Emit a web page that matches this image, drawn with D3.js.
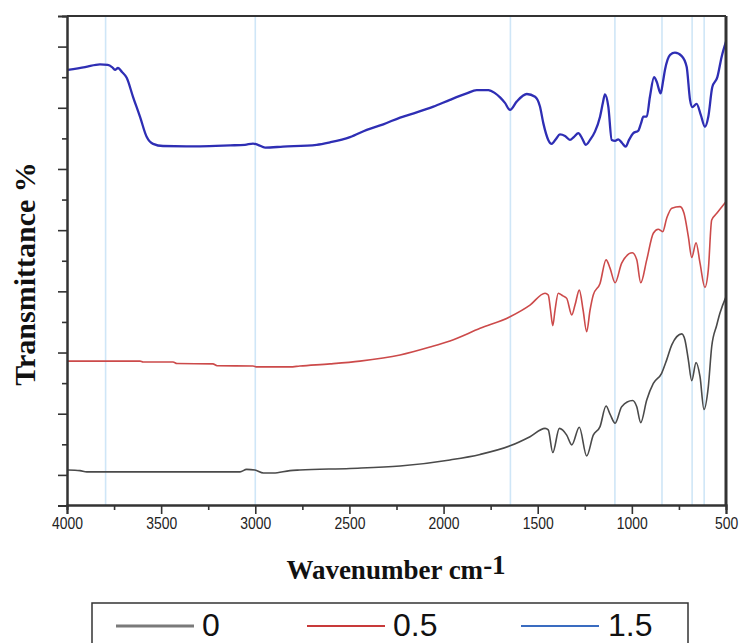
<!DOCTYPE html>
<html>
<head>
<meta charset="utf-8">
<script src="https://cdn.jsdelivr.net/npm/d3@7"></script>
<style>
  html, body { margin: 0; padding: 0; background: #fff; }
  svg { display: block; }
</style>
</head>
<body>
<svg id="chart" width="745" height="643"></svg>
<script>
// FTIR spectra: [wavenumber (cm-1), transmittance (offset, a.u.)]
const series0 = [
  [3995,1.16],[3931,1.14],[3895,1.10],[3842,1.10],[3081,1.10],[3046,1.18],[3002,1.16],
  [2957,1.06],[2904,1.06],[2816,1.14],[2763,1.16],[2497,1.21],[2231,1.29],[1966,1.49],
  [1806,1.67],[1647,1.95],[1541,2.25],[1461,2.52],[1444,2.47],[1420,1.73],[1385,2.52],
  [1346,2.30],[1319,1.98],[1279,2.56],[1240,1.62],[1205,2.30],[1169,2.58],[1137,3.25],
  [1116,2.99],[1089,2.69],[1054,3.23],[996,3.43],[974,3.23],[953,2.71],[921,3.45],
  [886,3.99],[842,4.32],[815,4.76],[788,5.25],[735,5.61],[718,5.41],[700,4.76],
  [682,4.08],[659,4.67],[638,4.21],[617,3.14],[594,3.88],[576,5.19],[549,5.90],
  [532,6.29],[500,6.82]
];
const series05 = [
  [3995,4.72],[3612,4.72],[3596,4.69],[3437,4.69],[3416,4.64],[3225,4.63],[3203,4.57],
  [3012,4.56],[2991,4.53],[2816,4.53],[2763,4.56],[2603,4.63],[2444,4.72],[2231,4.92],
  [2072,5.18],[1966,5.38],[1806,5.79],[1647,6.17],[1541,6.55],[1461,6.94],[1444,6.88],
  [1432,6.39],[1420,5.88],[1408,6.39],[1391,6.94],[1366,6.85],[1346,6.77],[1319,6.23],
  [1302,6.55],[1279,7.04],[1259,6.39],[1240,5.68],[1222,6.39],[1205,6.88],[1169,7.26],
  [1137,8.03],[1116,7.76],[1089,7.28],[1054,7.92],[998,8.26],[974,8.03],[953,7.28],
  [921,8.03],[886,8.90],[860,9.03],[836,8.95],[815,9.39],[788,9.72],[744,9.77],
  [723,9.55],[700,8.79],[682,8.11],[659,8.59],[638,7.92],[612,7.13],[594,7.70],
  [576,9.33],[549,9.55],[500,9.93]
];
const series15 = [
  [3995,14.24],[3904,14.33],[3825,14.42],[3784,14.40],[3761,14.33],[3745,14.24],[3729,14.30],
  [3708,14.17],[3683,13.98],[3649,13.35],[3612,12.70],[3577,12.05],[3543,11.82],[3490,11.75],
  [3294,11.74],[3134,11.77],[3055,11.79],[3012,11.83],[2986,11.79],[2948,11.70],[2853,11.73],
  [2674,11.79],[2603,11.87],[2497,12.04],[2408,12.28],[2320,12.46],[2231,12.68],[2143,12.85],
  [2054,13.04],[1966,13.26],[1877,13.47],[1824,13.58],[1762,13.58],[1727,13.48],[1700,13.34],
  [1674,13.16],[1647,12.93],[1612,13.20],[1558,13.45],[1514,13.36],[1488,13.04],[1470,12.49],
  [1444,11.95],[1426,11.82],[1403,11.98],[1382,12.13],[1355,12.08],[1329,11.95],[1307,12.05],
  [1284,12.17],[1265,12.01],[1244,11.79],[1222,11.95],[1196,12.22],[1169,12.71],[1153,13.19],
  [1143,13.44],[1125,13.04],[1107,11.95],[1089,11.92],[1072,11.97],[1052,11.85],[1033,11.73],
  [1015,11.95],[992,12.17],[966,12.25],[951,12.50],[939,12.71],[921,12.71],[904,13.36],
  [882,14.00],[868,13.85],[847,13.47],[835,13.84],[824,14.24],[797,14.73],[771,14.80],
  [735,14.69],[709,14.34],[691,13.26],[679,13.02],[656,13.13],[634,12.77],[612,12.38],
  [594,12.71],[573,13.67],[546,14.00],[523,14.67],[500,15.16]
];

const seriesNames = ["0", "0.5", "1.5"];
const xTicks = [4000, 3500, 3000, 2500, 2000, 1500, 1000, 500];
const xMinorTicks = [3750, 3250, 2750, 2250, 1750, 1250, 750];
const yMajorTicks = [1, 3, 5, 7, 9, 11, 13, 15];
const yMinorTicks = [2, 4, 6, 8, 10, 12, 14];
const markerLines = [3795, 3000, 1645, 1090, 840, 680, 616];

const colors = ["#4a4a4a", "#cc4a4a", "#2e2eb4"];
const widths = [1.6, 1.6, 2.3];
const legendColors = ["#7a7a7a", "#c83a3a", "#3a6cc0"];

const svg = d3.select("#chart");
const plotL = 67, plotR = 726, plotT = 16, plotB = 505;

const x = d3.scaleLinear().domain([4000, 500]).range([plotL, plotR]);
const y = d3.scaleLinear().domain([0, 16]).range([plotB + 0.5, plotT]);

// reference wavenumber guides
svg.append("g").selectAll("line").data(markerLines).join("line")
  .attr("x1", d => x(d)).attr("x2", d => x(d))
  .attr("y1", plotT).attr("y2", plotB)
  .attr("stroke", "#cfe6f7").attr("stroke-width", 1.6);

// spectra
const line = d3.line()
  .x(d => x(d[0])).y(d => y(d[1]))
  .curve(d3.curveMonotoneX);

[series0, series05, series15].forEach((s, i) => {
  svg.append("path").datum(s)
    .attr("d", line)
    .attr("fill", "none")
    .attr("stroke", colors[i])
    .attr("stroke-width", widths[i])
    .attr("stroke-linejoin", "round");
});

// frame (top and right)
svg.append("line").attr("x1", plotL).attr("x2", plotR).attr("y1", plotT).attr("y2", plotT)
  .attr("stroke", "#333").attr("stroke-width", 2);
svg.append("line").attr("x1", plotR).attr("x2", plotR).attr("y1", plotT).attr("y2", plotB)
  .attr("stroke", "#333").attr("stroke-width", 3);

// x axis
const gx = svg.append("g").attr("transform", `translate(0,${plotB})`);
gx.call(d3.axisBottom(x).tickValues(xTicks).tickSize(9).tickFormat(d3.format("d")));
gx.append("g").call(d3.axisBottom(x).tickValues(xMinorTicks).tickSize(5).tickFormat(""));
gx.selectAll(".domain").attr("stroke", "#333").attr("stroke-width", 2);
gx.selectAll(".tick line").attr("stroke", "#333").attr("stroke-width", 1.6);
gx.selectAll(".tick text")
  .attr("y", 12)
  .attr("transform", "scale(0.82,1)")
  .attr("font-family", "Liberation Sans, Arial, sans-serif")
  .attr("font-size", 17)
  .attr("fill", "#222");

// y axis
const gy = svg.append("g").attr("transform", `translate(${plotL},0)`);
gy.call(d3.axisLeft(y).tickValues(yMajorTicks).tickSize(9).tickFormat(""));
gy.append("g").call(d3.axisLeft(y).tickValues(yMinorTicks).tickSize(5).tickFormat(""));
gy.selectAll(".domain").attr("stroke", "#333").attr("stroke-width", 2);
gy.selectAll(".tick line").attr("stroke", "#333").attr("stroke-width", 1.6);

// axis titles
const xTitle = svg.append("text")
  .attr("x", 396).attr("y", 579)
  .attr("text-anchor", "middle")
  .attr("font-family", "Liberation Serif, Times New Roman, serif")
  .attr("font-weight", "bold").attr("font-size", 27).attr("fill", "#111");
xTitle.append("tspan").text("Wavenumber cm");
xTitle.append("tspan").attr("dy", -5).text("-1");

svg.append("text")
  .attr("transform", "translate(35,274) rotate(-90)")
  .attr("text-anchor", "middle")
  .attr("font-family", "Liberation Serif, Times New Roman, serif")
  .attr("font-weight", "bold").attr("font-size", 30).attr("fill", "#111")
  .text("Transmittance %");

// legend (box runs past the bottom edge)
const lg = svg.append("g");
lg.append("rect").attr("x", 92).attr("y", 603).attr("width", 596).attr("height", 60)
  .attr("fill", "#fff").attr("stroke", "#333").attr("stroke-width", 1.5);
const legendItems = [
  { x1: 116, x2: 194, tx: 202 },
  { x1: 307, x2: 385, tx: 393 },
  { x1: 521, x2: 599, tx: 608 }
];
legendItems.forEach((it, i) => {
  lg.append("line").attr("x1", it.x1).attr("x2", it.x2).attr("y1", 626).attr("y2", 626)
    .attr("stroke", legendColors[i]).attr("stroke-width", i === 0 ? 3 : 2);
  lg.append("text").attr("x", it.tx).attr("y", 636)
    .attr("font-family", "Liberation Sans, Arial, sans-serif")
    .attr("font-size", 32).attr("fill", "#111")
    .text(seriesNames[i]);
});
</script>
</body>
</html>
